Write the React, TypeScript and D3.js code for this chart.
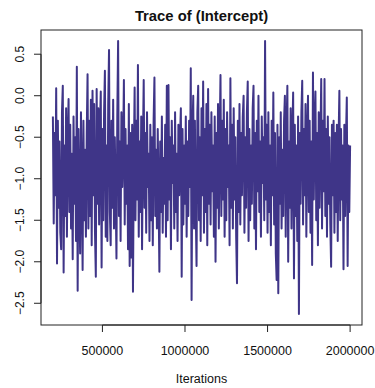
import React, { useEffect, useRef } from 'react';
import * as d3 from 'd3';

// MCMC trace, one value per stored iteration (thin = 5000, from 200000)
const iterStart = 200000;
const iterThin = 5000;
const traceValues = [
  -0.25, -1.54, -0.45, -1.2, 0.09, -2.02, -0.3, -1.35, -0.55, -1.65,
  -1.85, -0.2, 0.12, -2.13, -0.6, -1.45, -0.15, -1.7, -0.5, -0.04,
  -1.4, -0.35, -1.6, -0.7, -1.97, -0.25, -1.3, -0.5, -1.75, 0.35,
  -2.35, -0.4, -1.25, -1.9, -0.2, -1.05, -2.1, -0.3, -1.5, -0.65,
  -1.7, -0.45, 0.26, -1.6, -0.3, -1.45, -0.05, -1.8, 0.06, -1.2,
  -0.1, -1.65, -2.18, 0.08, -1.3, -0.15, -1.55, -0.35, 0.05, -2.07,
  -0.4, -1.5, -0.2, 0.3, -1.7, -0.6, -1.75, -0.1, 0.55, -1.4,
  -1.8, -0.3, -1.35, -0.05, -1.6, -0.5, -1.2, -1.96, -0.25, 0.66,
  -1.45, -0.55, -1.75, -0.2, -1.1, -0.7, 0.19, -1.55, -0.4, -1.3,
  -0.6, -1.85, -0.1, -2.05, -0.45, -1.95, -0.35, -2.36, -0.8, 0.1,
  -1.5, -0.3, -1.25, 0.37, -1.7, -0.55, -1.4, -0.25, -1.85, -0.6,
  0.19, -1.35, -0.45, -1.65, -0.2, -1.1, -0.7, -1.75, -0.35, -1.5,
  -0.5, -1.8, -0.3, 0.22, -1.45, -0.65, -1.6, -0.4, -1.2, -2.12,
  -0.55, -1.4, -0.25, -1.65, -0.75, -1.3, -0.35, -1.7, 0.12, -1.5,
  0.13, -1.25, -0.5, -1.85, -0.3, -1.05, -0.6, -1.6, -0.2, -1.4,
  -0.7, -1.75, -0.35, -1.2, -0.5, -0.15, -2.18, -0.4, -1.55, -0.6,
  -1.3, -0.25, -1.7, -0.55, -1.45, -0.3, -1.1, 0.33, -2.46, -0.45,
  0.0, -1.6, -0.3, -1.35, -2.05, -0.2, 0.12, -1.5, -0.5, -1.75,
  -0.15, -1.2, 0.17, -1.65, -0.4, -1.4, -0.1, -1.8, 0.08, -1.3,
  -0.35, -1.55, -0.2, -1.15, -0.6, -1.7, -0.25, -2.0, -0.45, -1.35,
  -0.1, -1.6, -0.5, 0.25, -1.45, -0.3, -1.25, -0.05, -1.7, -0.4,
  -1.5, -0.2, -1.1, -0.6, -1.8, 0.21, -1.35, -0.35, -1.6, -0.15,
  -1.25, -0.5, -1.7, -2.26, -0.3, -1.4, -0.1, -1.55, -0.45, -1.2,
  -0.25, 0.0, -1.65, -0.5, -1.35, -0.2, 0.17, -1.75, -0.4, -1.5,
  -0.6, -1.3, -0.15, 0.12, -1.6, -0.45, -1.85, -0.3, -1.15, 0.0,
  -1.4, -0.55, -1.7, -0.25, -1.05, -0.5, -1.5, 0.66, -1.25, -0.35,
  -1.65, -0.2, -1.4, -0.6, -1.8, -0.3, -1.2, 0.04, -1.55, -0.45,
  -1.9, -2.22, -0.35, -2.38, -0.5, -1.3, -0.2, -1.6, -0.65, -1.45,
  -0.3, 0.0, -1.7, -0.4, 0.12, -2.0, -0.55, -1.35, -0.15, -1.6,
  -0.5, 0.04, -2.2, -0.35, -1.45, -0.6, -1.75, -0.25, -2.63, -0.45,
  -1.3, -0.2, 0.18, -1.55, -0.4, -1.2, -0.1, -1.7, -0.5, 0.0,
  -1.4, -0.3, -1.65, -0.55, -2.04, 0.28, -1.25, -0.35, 0.05, -1.5,
  -0.45, -1.8, -0.2, -1.35, -0.6, 0.2, -1.6, -0.3, -1.15, 0.2,
  -1.45, -0.4, -1.7, -0.25, -1.3, -0.5, -1.55, -2.06, -0.35, -1.2,
  -0.3, -1.65, -0.45, -1.4, -0.35, -1.75, -0.55, 0.06, -1.5, -0.4,
  -1.25, -0.6, -2.09, -0.35, -1.45, -0.5, -0.02, -2.05, -0.6, -1.4,
  -0.6,
];

const xTicks = [500000, 1000000, 1500000, 2000000];
const yTicks = [-2.5, -2.0, -1.5, -1.0, -0.5, 0.0, 0.5];
const titleText = 'Trace of (Intercept)';
const xLabel = 'Iterations';

const App: React.FC = () => {
  const svgRef = useRef<SVGSVGElement>(null);

  const width = 375;
  const height = 388;
  const plot = { left: 41, right: 362, top: 30, bottom: 325 };
  const lineColor = '#3f3588';
  const font = "'Liberation Sans', Arial, Helvetica, sans-serif";

  useEffect(() => {
    if (!svgRef.current) return;
    const svg = d3.select(svgRef.current);
    svg.selectAll('*').remove();

    const data = traceValues.map((v, i) => ({ iter: iterStart + i * iterThin, v }));

    // R style 4% range extension on both axes
    const xExt = d3.extent(data, d => d.iter) as [number, number];
    const xPad = (xExt[1] - xExt[0]) * 0.04;
    const yExt = d3.extent(data, d => d.v) as [number, number];
    const yPad = (yExt[1] - yExt[0]) * 0.04;

    const x = d3.scaleLinear()
      .domain([xExt[0] - xPad, xExt[1] + xPad])
      .range([plot.left, plot.right]);
    const y = d3.scaleLinear()
      .domain([yExt[0] - yPad, yExt[1] + yPad])
      .range([plot.bottom, plot.top]);

    const line = d3.line<{ iter: number; v: number }>()
      .x(d => x(d.iter))
      .y(d => y(d.v));

    svg.append('path')
      .datum(data)
      .attr('d', line)
      .attr('fill', 'none')
      .attr('stroke', lineColor)
      .attr('stroke-width', 2)
      .attr('stroke-linejoin', 'round');

    // box
    svg.append('rect')
      .attr('x', plot.left)
      .attr('y', plot.top)
      .attr('width', plot.right - plot.left)
      .attr('height', plot.bottom - plot.top)
      .attr('fill', 'none')
      .attr('stroke', '#222')
      .attr('stroke-width', 1);

    // x axis
    const xg = svg.append('g').attr('font-family', font).attr('font-size', 12.5);
    xg.append('line')
      .attr('x1', x(xTicks[0])).attr('x2', x(xTicks[xTicks.length - 1]))
      .attr('y1', plot.bottom).attr('y2', plot.bottom)
      .attr('stroke', '#222');
    xTicks.forEach(t => {
      xg.append('line')
        .attr('x1', x(t)).attr('x2', x(t))
        .attr('y1', plot.bottom).attr('y2', plot.bottom + 7)
        .attr('stroke', '#222');
      xg.append('text')
        .attr('x', x(t))
        .attr('y', 355)
        .attr('text-anchor', 'middle')
        .attr('fill', '#111')
        .text(String(t));
    });

    // y axis
    const yg = svg.append('g').attr('font-family', font).attr('font-size', 12);
    yg.append('line')
      .attr('x1', plot.left).attr('x2', plot.left)
      .attr('y1', y(yTicks[0])).attr('y2', y(yTicks[yTicks.length - 1]))
      .attr('stroke', '#222');
    yTicks.forEach(t => {
      yg.append('line')
        .attr('x1', plot.left - 7).attr('x2', plot.left)
        .attr('y1', y(t)).attr('y2', y(t))
        .attr('stroke', '#222');
      yg.append('text')
        .attr('transform', `translate(24,${y(t)}) rotate(-90)`)
        .attr('text-anchor', 'middle')
        .attr('fill', '#111')
        .text(d3.format('.1f')(t).replace('-', '\u2212'));
    });

    // title and x label
    svg.append('text')
      .attr('x', (plot.left + plot.right) / 2)
      .attr('y', 21)
      .attr('text-anchor', 'middle')
      .attr('font-family', font)
      .attr('font-weight', 'bold')
      .attr('font-size', 14.8)
      .attr('fill', '#111')
      .text(titleText);

    svg.append('text')
      .attr('x', (plot.left + plot.right) / 2)
      .attr('y', 383)
      .attr('text-anchor', 'middle')
      .attr('font-family', font)
      .attr('font-size', 12.5)
      .attr('fill', '#111')
      .text(xLabel);
  }, []);

  return (
    <svg
      ref={svgRef}
      width={width}
      height={height}
      style={{ position: 'absolute', left: 0, top: 0, background: '#fff' }}
    />
  );
};

export default App;
